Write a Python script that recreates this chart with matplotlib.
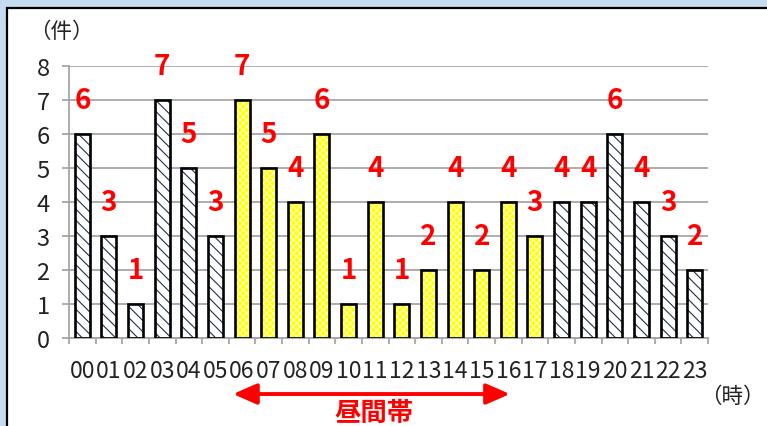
import matplotlib
matplotlib.use("Agg")
import matplotlib.pyplot as plt
from matplotlib.patches import Rectangle
import numpy as np

plt.rcParams['font.family'] = ['Noto Sans CJK JP', 'DejaVu Sans']

hours = ["00", "01", "02", "03", "04", "05", "06", "07", "08", "09", "10", "11",
         "12", "13", "14", "15", "16", "17", "18", "19", "20", "21", "22", "23"]
counts = [6, 3, 1, 7, 5, 3, 7, 5, 4, 6, 1, 4, 1, 2, 4, 2, 4, 3, 4, 4, 6, 4, 3, 2]
daytime = ["06", "07", "08", "09", "10", "11", "12", "13", "14", "15", "16", "17"]
yticks = [0, 1, 2, 3, 4, 5, 6, 7, 8]

W, H = 767, 427
fig = plt.figure(figsize=(W / 100, H / 100), dpi=100, facecolor='#C6DBF0')
fig.patches.append(Rectangle((7 / W, -0.1), 1.2, (H - 9) / H + 0.1,
                             transform=fig.transFigure, facecolor='white',
                             edgecolor='black', linewidth=1.6, zorder=-5))

ax = fig.add_axes([69 / W, 1 - 339 / H, 639 / W, 272 / H])
ax.set_zorder(5)
ax.set_facecolor('none')

x = np.arange(len(hours))
is_day = [h in daytime for h in hours]
gray = '#A6A6A6'

plt.rcParams['hatch.linewidth'] = 0.8
for xi, v, d in zip(x, counts, is_day):
    if d:
        ax.bar(xi, v, width=0.56, color='#FFFF00', edgecolor='#FFFFC8',
               hatch='xxxxx', linewidth=0, zorder=2)
    else:
        ax.bar(xi, v, width=0.56, color='white', edgecolor='#1F2F55',
               hatch='\\\\\\', linewidth=0, zorder=2)
    ax.bar(xi, v, width=0.56, fill=False, edgecolor='black', linewidth=1.9, zorder=3)
    ax.text(xi, v + 1, str(v), ha='center', va='center', color='#FF0000',
            fontsize=20, fontweight='bold', zorder=4)

ax.set_xlim(-0.5, len(hours) - 0.5)
ax.set_ylim(0, 8)
ax.set_yticks(yticks)
ax.set_yticklabels([str(t) for t in yticks])
ax.set_xticks(x)
ax.set_xticklabels(hours)
ax.set_xticks(np.arange(-0.5, len(hours), 1), minor=True)

ax.tick_params(axis='x', which='major', length=0, pad=15, labelsize=16.5, colors='#222222')
ax.tick_params(axis='x', which='minor', length=4.5, width=1.3, color=gray, direction='out')
ax.tick_params(axis='y', which='major', length=5, width=1.3, color=gray, pad=9,
               labelsize=17, labelcolor='#222222')

ax.grid(axis='y', color=gray, linewidth=1.3, zorder=1)
ax.set_axisbelow(True)
for s in ['top', 'right']:
    ax.spines[s].set_visible(False)
for s in ['left', 'bottom']:
    ax.spines[s].set_color(gray)
    ax.spines[s].set_linewidth(1.3)

ax.text(-0.0125, 1.129, '（件）', transform=ax.transAxes, ha='center', va='center',
        fontsize=15.5, color='#222222')
ax.text(1.0376, -0.213, '（時）', transform=ax.transAxes, ha='center', va='center',
        fontsize=15.5, color='#222222')

ax.annotate('', xy=(5.66, -0.206), xytext=(16.06, -0.206),
            xycoords=('data', 'axes fraction'), textcoords=('data', 'axes fraction'),
            arrowprops=dict(arrowstyle='<|-|>,head_length=0.8,head_width=0.35',
                            color='#FF0000', lw=2.8, shrinkA=0, shrinkB=0,
                            mutation_scale=18),
            annotation_clip=False)
ax.text(10.95, -0.272, '昼間帯', transform=ax.get_xaxis_transform(), ha='center',
        va='center', fontsize=19, fontweight='bold', color='#FF0000')

fig.savefig('out.png', dpi=100, facecolor=fig.get_facecolor())
